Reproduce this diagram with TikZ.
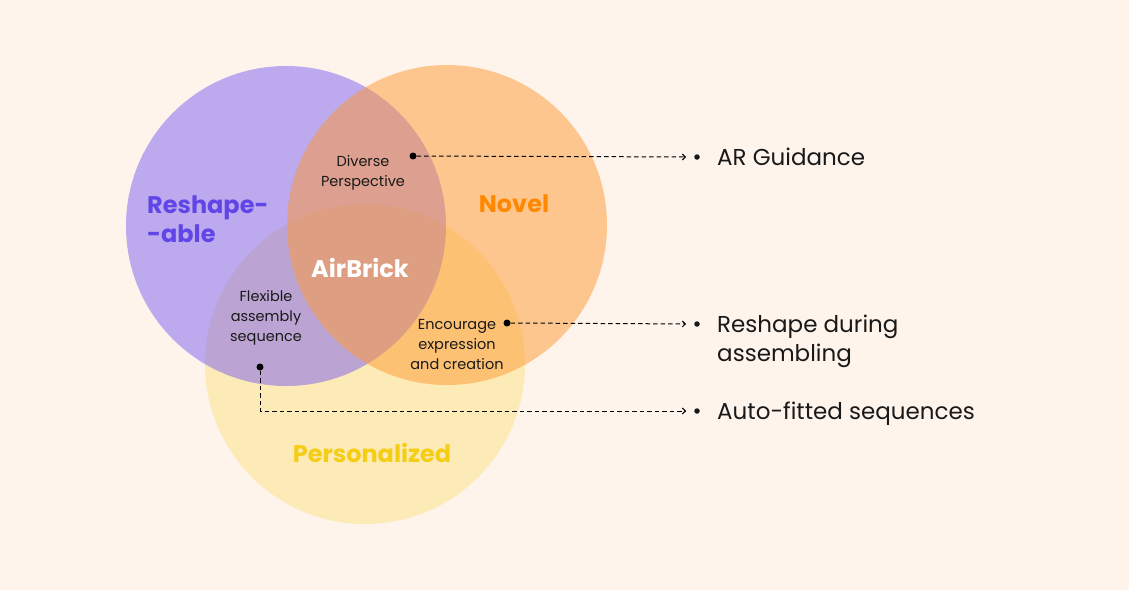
\documentclass[tikz,border=0pt]{standalone}
\usepackage{fontspec}
\setmainfont{Poppins}
\usepackage{xcolor}
\definecolor{bgcream}{RGB}{254,244,236}
\definecolor{venpurple}{RGB}{124,95,240}
\definecolor{venorange}{RGB}{255,153,51}
\definecolor{venyellow}{RGB}{252,226,132}
\definecolor{txtpurple}{RGB}{96,70,230}
\definecolor{txtorange}{RGB}{255,136,0}
\definecolor{txtyellow}{RGB}{245,205,20}
\definecolor{inkdark}{RGB}{25,25,25}
\usetikzlibrary{arrows.meta}
\tikzset{
    setlabel/.style={font=\fontsize{24}{29}\selectfont\bfseries, align=left, inner sep=0},
    areatxt/.style={font=\fontsize{14.5}{20}\selectfont, text=inkdark, align=center, inner sep=0},
    dotnode/.style={circle, fill=black, inner sep=0, minimum size=7pt},
    bulnode/.style={circle, fill=inkdark, inner sep=0, minimum size=5.5pt},
    featuretxt/.style={font=\fontsize{23}{29}\selectfont, text=inkdark, align=left, inner sep=0},
    link/.style={dashed, dash pattern=on 4.5pt off 3pt, line width=1pt, -{Straight Barb[length=3pt,width=6pt]}, shorten >=8pt}
}

\begin{document}
\begin{tikzpicture}[x=1pt,y=-1pt]
    \fill[bgcream] (0,0) rectangle (1129,590);
    \useasboundingbox (0,0) rectangle (1129,590);
    % three sets
    \fill[venyellow, opacity=0.5] (365,364) circle (160pt);
    \fill[venpurple, opacity=0.5] (286,226) circle (160pt);
    \fill[venorange, opacity=0.5] (447,225) circle (160pt);
    \node[setlabel, text=txtpurple, anchor=base west] (reshape) at (147,242) {Reshape-\\-able};
    \node[setlabel, text=txtorange] (novel) at (514,204) {Novel};
    \node[setlabel, text=txtyellow] (personal) at (372,453) {Personalized};
    \node[setlabel, text=white] (airbrick) at (360,268) {AirBrick};
    % overlap areas
    \node[areatxt] (diverse) at (363,173) {Diverse\\Perspective};
    \node[areatxt] (flexible) at (266,318) {Flexible\\assembly\\sequence};
    \node[areatxt] (encourage) at (457,344) {Encourage\\expression\\and creation};
    % pointers
    \node[dotnode] (dA) at (413,156) {};
    \node[dotnode] (dB) at (507,323) {};
    \node[dotnode] (dC) at (260,367) {};
    \node[bulnode] (bA) at (697,157) {};
    \node[bulnode] (bB) at (697,324) {};
    \node[bulnode] (bC) at (697,411) {};
    \draw[link] (dA) -- (bA);
    \draw[link] (dB) -- (bB);
    \draw[link] (dC) |- (bC);
    \node[featuretxt, anchor=base west] (fA) at (717,165) {AR Guidance};
    \node[featuretxt, anchor=base west] (fB) at (717,361) {Reshape during\\assembling};
    \node[featuretxt, anchor=base west] (fC) at (717,419) {Auto-fitted sequences};
\end{tikzpicture}
\end{document}
